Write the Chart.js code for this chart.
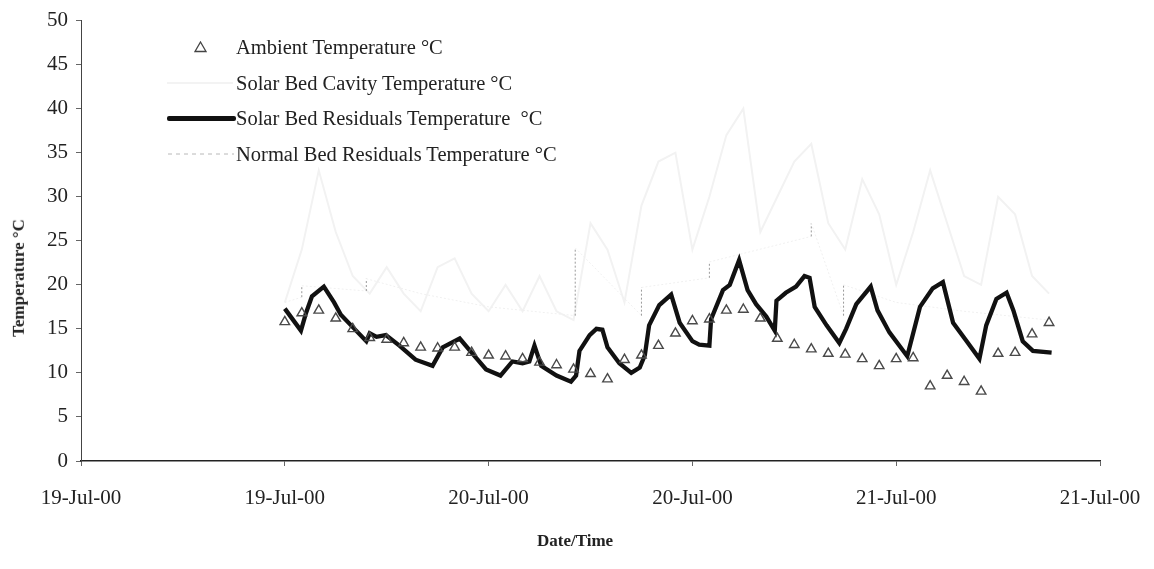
<!DOCTYPE html>
<html>
<head>
<meta charset="utf-8">
<script src="https://cdn.jsdelivr.net/npm/chart.js@4/dist/chart.umd.min.js"></script>
<style>
  html, body { margin: 0; padding: 0; background: #fff; }
  #wrap { position: relative; width: 1154px; height: 569px; overflow: hidden; font-family: "Liberation Serif", "Times New Roman", serif; color: #222; }
  #c { position: absolute; left: 0; top: 0; }
  .lg { position: absolute; left: 236px; height: 24px; line-height: 24px; font-size: 20.5px; white-space: pre; }
  .mk { position: absolute; }
  #ytitle { position: absolute; font-weight: bold; font-size: 17px; white-space: pre; transform-origin: center center; }
  #xtitle { position: absolute; font-weight: bold; font-size: 17px; white-space: pre; }
</style>
</head>
<body>
<div id="wrap">
  <canvas id="c" width="1154" height="569"></canvas>
  <svg class="mk" style="left:194px;top:41px" width="13" height="12"><polygon points="6.5,1 12,10.5 1,10.5" fill="none" stroke="#444" stroke-width="1.3"/></svg>
  <div class="lg" style="top:35px">Ambient Temperature °C</div>
  <div class="mk" style="left:167px;top:82px;width:66px;height:2px;background:#f3f3f3"></div>
  <div class="lg" style="top:71px">Solar Bed Cavity Temperature °C</div>
  <div class="mk" style="left:167px;top:116px;width:69px;height:5px;background:#111;border-radius:2px"></div>
  <div class="lg" style="top:106px">Solar Bed Residuals Temperature  °C</div>
  <svg class="mk" style="left:168px;top:152px" width="66" height="4"><line x1="0" y1="2" x2="66" y2="2" stroke="#b8b8b8" stroke-width="1" stroke-dasharray="4,4"/></svg>
  <div class="lg" style="top:142px">Normal Bed Residuals Temperature °C</div>
  <div id="ytitle">Temperature °C</div>
  <div id="xtitle">Date/Time</div>
</div>
<script>
// ---- data (time in hours from 19-Jul-00 00:00) ----
const xTickLabels = ["19-Jul-00", "19-Jul-00", "20-Jul-00", "20-Jul-00", "21-Jul-00", "21-Jul-00"];
const yTickValues = [0, 5, 10, 15, 20, 25, 30, 35, 40, 45, 50];

const ambientHours = [12,13,14,15,16,17,18,19,20,21,22,23,24,25,26,27,28,29,30,31,32,33,34,35,36,37,38,39,40,41,42,43,44,45,46,47,48,49,50,51,52,53,54,55,56,57];
const ambientValues = [15.8,16.8,17.1,16.2,15.0,14.0,13.8,13.4,12.9,12.8,12.9,12.3,12.0,11.9,11.6,11.2,10.9,10.4,9.9,9.3,11.5,12.0,13.1,14.5,15.9,16.1,17.1,17.2,16.2,13.9,13.2,12.7,12.2,12.1,11.6,10.8,11.6,11.7,8.5,9.7,9.0,7.9,12.2,12.3,14.4,15.7];

const residualHours = [12.0,12.95,13.25,13.6,14.3,14.9,15.3,16.0,16.8,17.0,17.4,17.95,18.75,19.7,20.7,21.3,22.3,23.05,23.85,24.7,25.4,26.0,26.4,26.7,27.1,28.0,28.85,29.15,29.35,29.95,30.35,30.7,31.0,31.7,32.4,32.9,33.2,33.45,34.05,34.75,35.25,36.0,36.4,37.0,37.1,37.8,38.2,38.75,39.25,39.75,40.35,40.85,40.95,41.5,42.1,42.6,42.9,43.2,43.9,44.65,45.05,45.65,46.5,46.9,47.6,48.65,49.4,50.15,50.75,51.35,52.15,52.9,53.3,53.9,54.5,54.9,55.45,56.05,57.15];
const residualValues = [17.3,14.8,16.8,18.7,19.8,18.0,16.6,15.2,13.6,14.5,14.1,14.3,13.1,11.5,10.8,12.9,13.9,12.2,10.4,9.7,11.3,11.1,11.3,13.1,10.8,9.7,9.0,9.7,12.5,14.3,15.0,14.9,12.9,11.1,10.0,10.6,12.0,15.4,17.7,18.9,15.7,13.6,13.2,13.1,16.1,19.4,20.0,22.8,19.4,17.8,16.4,14.8,18.2,19.1,19.8,21.0,20.8,17.5,15.4,13.4,15.0,17.8,19.8,17.1,14.6,11.9,17.5,19.6,20.3,15.7,13.6,11.6,15.4,18.4,19.1,17.1,13.6,12.5,12.3];

const cavityHours = [12,13,14,15,16,17,18,19,20,21,22,23,24,25,26,27,28,29,30,31,32,33,34,35,36,37,38,39,40,41,42,43,44,45,46,47,48,49,50,51,52,53,54,55,56,57];
const cavityValues = [18,24,33,26,21,19,22,19,17,22,23,19,17,20,17,21,17,16,27,24,18,29,34,35,24,30,37,40,26,30,34,36,27,24,32,28,20,26,33,27,21,20,30,28,21,19];

const normalHours = [12,13,13,16.8,16.8,20,24,29.1,29.1,33,33,37,37,43,43,44.9,44.9,48,52,57];
const normalValues = [18,18.6,19.9,19.3,20.7,19,17.5,16.5,24.2,16.5,19.7,20.8,22.6,25.5,27,16.5,20,18,17,16];

const pts = (xs, ys) => xs.map((x, i) => ({ x: x, y: ys[i] }));

const FONT = "'Liberation Serif', 'Times New Roman', serif";
const AREA = { left: 81, right: 1100, top: 20, bottom: 461 };

const chart = new Chart(document.getElementById('c'), {
  type: 'line',
  data: {
    datasets: [
      {
        label: 'Ambient Temperature °C',
        data: pts(ambientHours, ambientValues),
        showLine: false,
        pointStyle: 'triangle',
        pointRadius: 5.5,
        pointBorderWidth: 1.4,
        pointBorderColor: '#4a4a4a',
        pointBackgroundColor: 'rgba(255,255,255,0)',
        order: 0
      },
      {
        label: 'Solar Bed Residuals Temperature  °C',
        data: pts(residualHours, residualValues),
        borderColor: '#111',
        borderWidth: 4.3,
        pointRadius: 0,
        tension: 0,
        order: 1
      },
      {
        label: 'Normal Bed Residuals Temperature °C',
        data: pts(normalHours, normalValues),
        borderColor: '#f0f0f0',
        borderWidth: 1,
        borderDash: [2, 2],
        pointRadius: 0,
        tension: 0,
        segment: {
          // near-vertical parts of the faint dashed trace show up darker in the scan
          borderColor: (ctx) => Math.abs(ctx.p1.x - ctx.p0.x) < 1 ? '#9a9a9a' : '#f0f0f0'
        },
        order: 2
      },
      {
        label: 'Solar Bed Cavity Temperature °C',
        data: pts(cavityHours, cavityValues),
        borderColor: '#f2f2f2',
        borderWidth: 2,
        pointRadius: 0,
        tension: 0,
        order: 3
      }
    ]
  },
  options: {
    responsive: false,
    animation: false,
    devicePixelRatio: 1,
    layout: { padding: { left: 0, right: 1154 - AREA.right, top: AREA.top, bottom: 0 } },
    plugins: { legend: { display: false }, tooltip: { enabled: false } },
    scales: {
      x: {
        type: 'linear',
        min: 0, max: 60,
        afterFit: (s) => { s.height = 569 - AREA.bottom; s.paddingLeft = 0; s.paddingRight = 0; },
        afterBuildTicks: (s) => { s.ticks = xTickLabels.map((_, i) => ({ value: i * 12 })); },
        ticks: {
          autoSkip: false, maxRotation: 0, padding: 20,
          color: '#222', font: { family: FONT, size: 21 },
          callback: (v) => xTickLabels[Math.round(v / 12)]
        },
        grid: { display: true, drawOnChartArea: false, drawTicks: true, tickLength: 5, color: '#666', lineWidth: 1 },
        border: { display: true, color: '#222', width: 1.5 }
      },
      y: {
        min: 0, max: 50,
        afterFit: (s) => { s.width = AREA.left; },
        afterBuildTicks: (s) => { s.ticks = yTickValues.map(v => ({ value: v })); },
        ticks: { padding: 8, color: '#222', font: { family: FONT, size: 21 } },
        grid: { display: true, drawOnChartArea: false, drawTicks: true, tickLength: 5, color: '#666', lineWidth: 1 },
        border: { display: true, color: '#444', width: 1 }
      }
    }
  }
});

// axis titles as real text
const yt = document.getElementById('ytitle');
const ytw = yt.offsetWidth, yth = yt.offsetHeight;
yt.style.left = (19 - ytw / 2) + 'px';
yt.style.top = (278 - yth / 2) + 'px';
yt.style.transform = 'rotate(-90deg)';
const xt = document.getElementById('xtitle');
xt.style.left = (575 - xt.offsetWidth / 2) + 'px';
xt.style.top = (541 - xt.offsetHeight / 2) + 'px';
</script>
</body>
</html>
